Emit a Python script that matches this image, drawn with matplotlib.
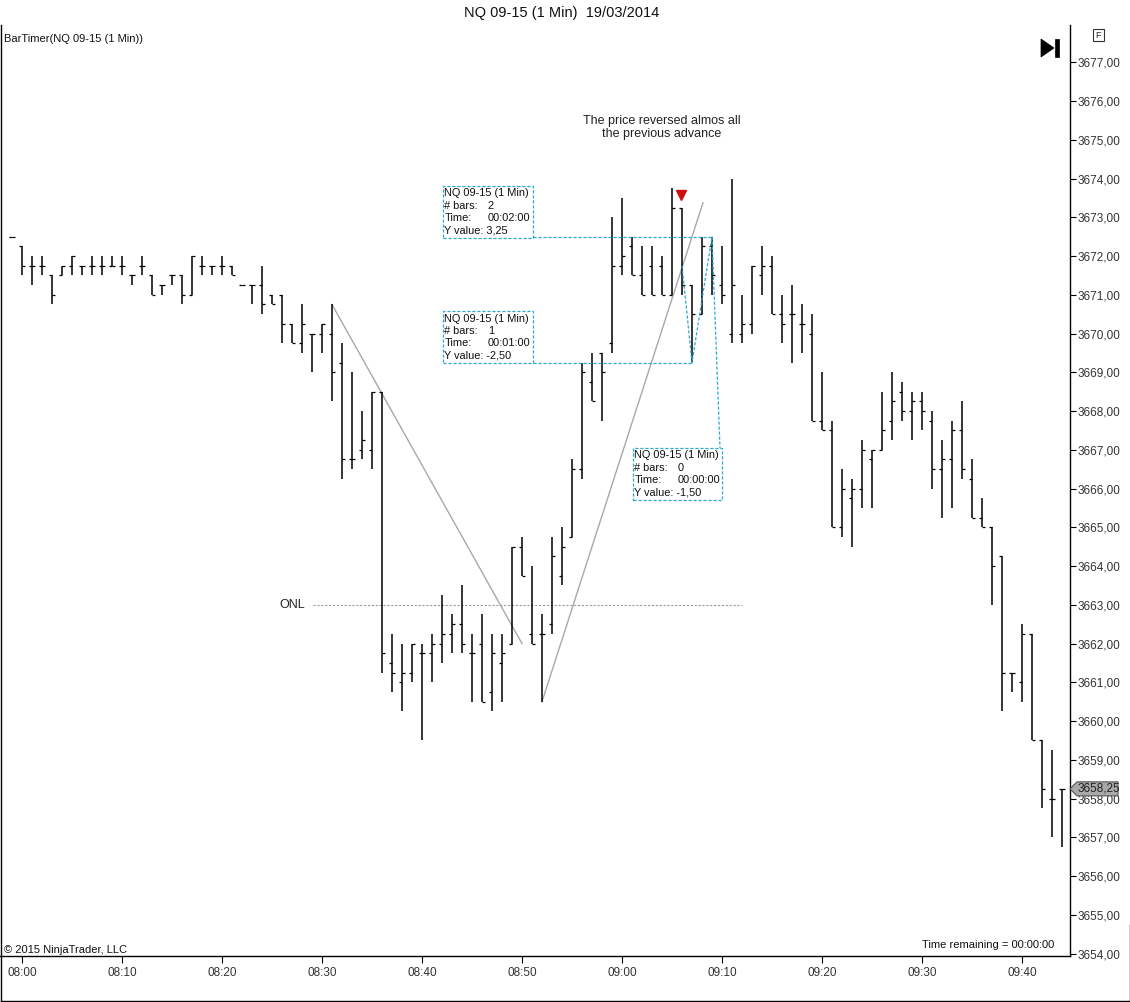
import matplotlib
matplotlib.use('Agg')
import matplotlib.pyplot as plt
from matplotlib.patches import Polygon, Rectangle
from matplotlib.lines import Line2D

# ---------------- data ----------------
minutes = list(range(-1, 105))   # minutes after 08:00
opens = [3672.5, 3672.25, 3671.75, 3671.75, 3671.5, 3671.5, 3671.75, 3671.75, 3671.75, 3671.75,
         3671.75, 3671.75, 3671.5, 3671.75, 3671.5, 3671.25, 3671.5, 3671.5, 3671.0, 3671.75,
         3671.75, 3671.75, 3671.75, 3671.25, 3671.25, 3671.25, 3671.0, 3671.0, 3670.25, 3669.75,
         3670.0, 3670.0, 3670.0, 3669.25, 3666.75, 3667.0, 3667.0, 3668.5, 3661.5, 3661.0,
         3661.25, 3661.75, 3661.75, 3662.0, 3662.25, 3662.5, 3661.75, 3662.0, 3660.75, 3661.5,
         3662.0, 3664.5, 3662.25, 3662.25, 3662.5, 3663.75, 3664.75, 3666.5, 3668.75, 3669.5,
         3669.75, 3671.75, 3672.25, 3671.5, 3671.75, 3671.75, 3671.0, 3673.25, 3671.25, 3670.5,
         3672.25, 3671.25, 3670.0, 3670.0, 3670.25, 3671.5, 3671.75, 3670.5, 3670.5, 3670.25,
         3670.0, 3667.75, 3667.5, 3665.0, 3665.75, 3666.0, 3666.75, 3667.0, 3667.75, 3668.5,
         3668.0, 3668.25, 3667.75, 3666.5, 3666.75, 3667.5, 3666.25, 3665.25, 3665.0, 3664.25,
         3661.25, 3661.0, 3662.25, 3659.5, 3658.0, 3658.25]
highs = [3672.5, 3672.25, 3672.0, 3672.0, 3671.5, 3671.75, 3672.0, 3671.75, 3672.0, 3672.0,
         3672.0, 3672.0, 3671.5, 3672.0, 3671.5, 3671.25, 3671.5, 3671.5, 3672.0, 3672.0,
         3671.75, 3672.0, 3671.75, 3671.25, 3671.25, 3671.75, 3671.0, 3671.0, 3670.25, 3670.75,
         3670.0, 3670.25, 3670.75, 3669.75, 3669.0, 3668.0, 3668.5, 3668.5, 3662.25, 3662.0,
         3662.0, 3662.0, 3662.25, 3663.25, 3662.75, 3663.5, 3662.25, 3662.75, 3662.25, 3662.25,
         3664.5, 3664.75, 3664.0, 3662.75, 3664.75, 3665.0, 3666.75, 3669.25, 3669.5, 3669.5,
         3673.0, 3673.5, 3672.5, 3672.25, 3672.25, 3672.0, 3673.75, 3673.25, 3671.25, 3672.5,
         3672.5, 3672.25, 3674.0, 3671.0, 3671.75, 3672.25, 3672.0, 3671.0, 3671.25, 3670.75,
         3670.5, 3669.0, 3667.75, 3666.5, 3666.25, 3667.25, 3667.0, 3668.5, 3669.0, 3668.75,
         3668.5, 3668.5, 3668.0, 3667.25, 3667.75, 3668.25, 3666.75, 3665.75, 3665.0, 3664.25,
         3661.25, 3662.5, 3662.25, 3659.5, 3659.25, 3658.25]
lows = [3672.5, 3671.5, 3671.25, 3671.5, 3670.75, 3671.5, 3671.5, 3671.5, 3671.5, 3671.5,
        3671.75, 3671.5, 3671.25, 3671.5, 3671.0, 3671.0, 3671.25, 3670.75, 3671.0, 3671.5,
        3671.5, 3671.5, 3671.5, 3671.25, 3670.75, 3670.5, 3670.75, 3669.75, 3669.75, 3669.5,
        3669.0, 3669.5, 3668.25, 3666.25, 3666.5, 3666.75, 3666.5, 3661.25, 3660.75, 3660.25,
        3661.0, 3659.5, 3661.0, 3661.5, 3661.75, 3661.75, 3660.5, 3660.5, 3660.25, 3660.5,
        3662.0, 3663.75, 3662.0, 3660.5, 3662.25, 3663.5, 3664.75, 3666.25, 3668.25, 3667.75,
        3669.5, 3671.5, 3671.5, 3671.0, 3671.0, 3671.0, 3671.0, 3671.0, 3669.25, 3670.5,
        3671.0, 3670.75, 3669.75, 3669.75, 3670.0, 3671.0, 3670.5, 3669.75, 3669.25, 3669.5,
        3667.75, 3667.5, 3665.0, 3664.75, 3664.5, 3665.5, 3665.5, 3667.0, 3667.25, 3667.75,
        3667.25, 3667.5, 3666.0, 3665.25, 3665.5, 3666.25, 3665.25, 3665.0, 3663.0, 3660.25,
        3660.75, 3660.5, 3659.5, 3657.75, 3657.0, 3656.75]
closes = [3672.5, 3671.75, 3671.75, 3671.75, 3671.0, 3671.75, 3672.0, 3671.75, 3671.75, 3671.75,
          3671.75, 3671.75, 3671.5, 3671.75, 3671.0, 3671.25, 3671.5, 3671.0, 3672.0, 3671.75,
          3671.75, 3671.75, 3671.5, 3671.25, 3671.25, 3670.75, 3670.75, 3670.25, 3669.75, 3670.25,
          3670.0, 3670.25, 3669.0, 3666.75, 3666.75, 3667.25, 3668.5, 3661.75, 3661.25, 3661.25,
          3662.0, 3661.75, 3662.0, 3662.25, 3662.5, 3662.0, 3661.75, 3660.5, 3661.75, 3661.75,
          3664.5, 3663.75, 3662.0, 3662.25, 3664.25, 3664.5, 3666.5, 3669.0, 3668.25, 3669.0,
          3671.75, 3672.0, 3671.5, 3671.0, 3671.0, 3671.0, 3673.25, 3671.25, 3670.5, 3672.25,
          3671.5, 3671.0, 3671.25, 3670.25, 3671.75, 3671.75, 3670.5, 3670.25, 3670.5, 3670.25,
          3667.75, 3667.5, 3665.0, 3666.0, 3666.0, 3667.0, 3667.0, 3667.5, 3668.25, 3668.0,
          3668.25, 3668.0, 3666.5, 3666.75, 3667.5, 3666.5, 3665.25, 3665.0, 3664.0, 3661.25,
          3661.25, 3662.25, 3659.5, 3658.25, 3658.0, 3658.25]

price_ticks = list(range(3654, 3678))
time_tick_minutes = list(range(0, 101, 10))
time_tick_labels = ['08:00', '08:10', '08:20', '08:30', '08:40', '08:50',
                    '09:00', '09:10', '09:20', '09:30', '09:40']

onl_level = 3663.0
trend1 = ([31, 50], [3670.75, 3662.0])
trend2 = ([52, 68.1], [3660.5, 3673.375])
ruler_path_a = ([66, 67, 69], [3671.75, 3669.25, 3672.5])
last_price = 3658.25

# ---------------- layout ----------------
W, H = 1130, 1002
plt.rcParams['font.family'] = ['Liberation Sans', 'DejaVu Sans']
fig = plt.figure(figsize=(W / 100, H / 100), dpi=100)
fig.patch.set_facecolor('white')


def fx(x):
    return x / W


def fy(y):
    return 1 - y / H


def px(x, y):
    """pixel position -> data coordinates (for annotation placement)"""
    return (x - 22) / 10.0, 3677 - (y - 62.3) / 38.75


ax = fig.add_axes([0, fy(956), fx(1070), fy(25) - fy(956)])
x0, y0 = px(0, 956)
x1, y1 = px(1070, 25)
ax.set_xlim(x0, x1)
ax.set_ylim(y0, y1)

for s in ['top', 'left']:
    ax.spines[s].set_visible(False)
for s in ['right', 'bottom']:
    ax.spines[s].set_color('black')
    ax.spines[s].set_linewidth(1.0)

ax.yaxis.tick_right()
ax.set_yticks(price_ticks)
ax.set_yticklabels([f"{v:.2f}".replace('.', ',') for v in price_ticks])
ax.tick_params(axis='y', which='major', direction='out', length=4, width=0.8,
               labelsize=8.5, labelcolor='#333333', pad=1.5)
ax.set_xticks(time_tick_minutes)
ax.set_xticklabels(time_tick_labels)
ax.tick_params(axis='x', which='major', direction='out', length=5, width=0.8,
               labelsize=8.5, labelcolor='#333333', pad=3)

# bars
ax.vlines(minutes, lows, highs, color='black', linewidth=1.1, zorder=3)
ax.hlines(opens, [m - 0.3 for m in minutes], minutes, color='black', linewidth=0.9, zorder=3)
ax.hlines(closes, minutes, [m + 0.3 for m in minutes], color='black', linewidth=0.9, zorder=3)

# trend lines
ax.plot(*trend1, color='#a8a8a8', linewidth=1.0, zorder=2)
ax.plot(*trend2, color='#a8a8a8', linewidth=1.0, zorder=2)

# ONL
ox0, _ = px(313, 604)
ox1, _ = px(742, 604)
ax.plot([ox0, ox1], [onl_level, onl_level], color='#9a9a9a', linewidth=0.8,
        linestyle=(0, (2, 1.5)), zorder=2)
tx, _ = px(305, 604)
ax.text(tx, onl_level, 'ONL', ha='right', va='center', fontsize=9, color='#222222')

# annotation
ax.text(*px(662, 127.5), 'The price reversed almos all\nthe previous advance', ha='center',
        va='center', fontsize=9, color='#222222', linespacing=1.2)

# red marker
ax.plot(*px(681, 195), marker='v', color='#d01010', markersize=6.5, zorder=4)

# rulers
rc = '#2aa8d2'
rls = (0, (2.5, 1.5))
ax.plot(*ruler_path_a, color=rc, linewidth=0.9, linestyle=rls, zorder=4)
bx3 = px(720, 448)
ax.plot([69, bx3[0]], [3672.5, bx3[1]], color=rc, linewidth=0.9, linestyle=rls, zorder=4)
b1r = px(533, 238)[0]
ax.plot([b1r, 69], [3672.5, 3672.5], color=rc, linewidth=0.9, linestyle=rls, zorder=4)
ax.plot([b1r, 67], [3669.25, 3669.25], color=rc, linewidth=0.9, linestyle=rls, zorder=4)


def ruler_box(xl, yt, xr, yb, lines):
    a = px(xl, yb)
    b = px(xr, yt)
    ax.add_patch(Rectangle(a, b[0] - a[0], b[1] - a[1], facecolor='white', edgecolor=rc,
                           linewidth=0.9, linestyle=rls, zorder=5))
    for i, (lab, val) in enumerate(lines):
        yy = yt + 7.5 + 12.4 * i
        ax.text(*px(xl + 1.5, yy), lab, ha='left', va='center', fontsize=7.9, color='#111111', zorder=6)
        if val:
            ax.text(*px(xl + 45, yy), val, ha='left', va='center', fontsize=7.9, color='#111111', zorder=6)


ruler_box(443, 186, 533, 238, [('NQ 09-15 (1 Min)', ''), ('# bars:', '2'),
                               ('Time:', '00:02:00'), ('Y value: 3,25', '')])
ruler_box(443, 311, 533, 363, [('NQ 09-15 (1 Min)', ''), ('# bars:', '1'),
                               ('Time:', '00:01:00'), ('Y value: -2,50', '')])
ruler_box(633, 448, 722, 500, [('NQ 09-15 (1 Min)', ''), ('# bars:', '0'),
                               ('Time:', '00:00:00'), ('Y value: -1,50', '')])

# ---------------- figure furniture ----------------
fig.text(fx(562), fy(13), 'NQ 09-15 (1 Min)  19/03/2014', ha='center', va='center',
         fontsize=10.5, color='#111111')
fig.text(fx(4), fy(39), 'BarTimer(NQ 09-15 (1 Min))', ha='left', va='center',
         fontsize=8, color='#111111')
fig.text(fx(4), fy(950), '\u00a9 2015 NinjaTrader, LLC', ha='left', va='center',
         fontsize=8, color='#111111')
fig.text(fx(1054), fy(945), 'Time remaining = 00:00:00', ha='right', va='center',
         fontsize=8, color='#111111')

# play-to-end icon
fig.add_artist(Polygon([(fx(1041), fy(39)), (fx(1041), fy(57)), (fx(1054), fy(48))],
                       closed=True, facecolor='black', edgecolor='black', linewidth=0.5))
fig.add_artist(Rectangle((fx(1055), fy(57)), fx(4), fy(39) - fy(57), facecolor='black',
                         edgecolor='black', linewidth=0.5))

# F box
fig.add_artist(Rectangle((fx(1093), fy(41)), fx(11), fy(29) - fy(41), facecolor='white',
                         edgecolor='#333333', linewidth=0.8))
fig.text(fx(1098.5), fy(35), 'F', ha='center', va='center', fontsize=6.5, color='#222222')

# last price marker
my = 956 - (last_price - y0) / (y1 - y0) * (956 - 25)
fig.add_artist(Polygon([(fx(1070), fy(my)), (fx(1077), fy(my - 7)), (fx(1118), fy(my - 7)),
                        (fx(1118), fy(my + 7)), (fx(1077), fy(my + 7))], closed=True,
                       facecolor='#a9a9a9', edgecolor='#555555', linewidth=0.8, zorder=5))
fig.text(fx(1078), fy(my), f"{last_price:.2f}".replace('.', ','), ha='left', va='center',
         fontsize=8.5, color='#222222', zorder=6)

# outer frame
fig.add_artist(Line2D([fx(0.5), fx(0.5)], [fy(25), fy(1001)], color='black', linewidth=1.0))
fig.add_artist(Line2D([fx(0.5), fx(1129.5)], [fy(1001), fy(1001)], color='black', linewidth=1.0))
fig.add_artist(Line2D([fx(1129.5), fx(1129.5)], [fy(925), fy(1001)], color='black', linewidth=1.0))

fig.savefig('out.png', dpi=100, facecolor='white')
